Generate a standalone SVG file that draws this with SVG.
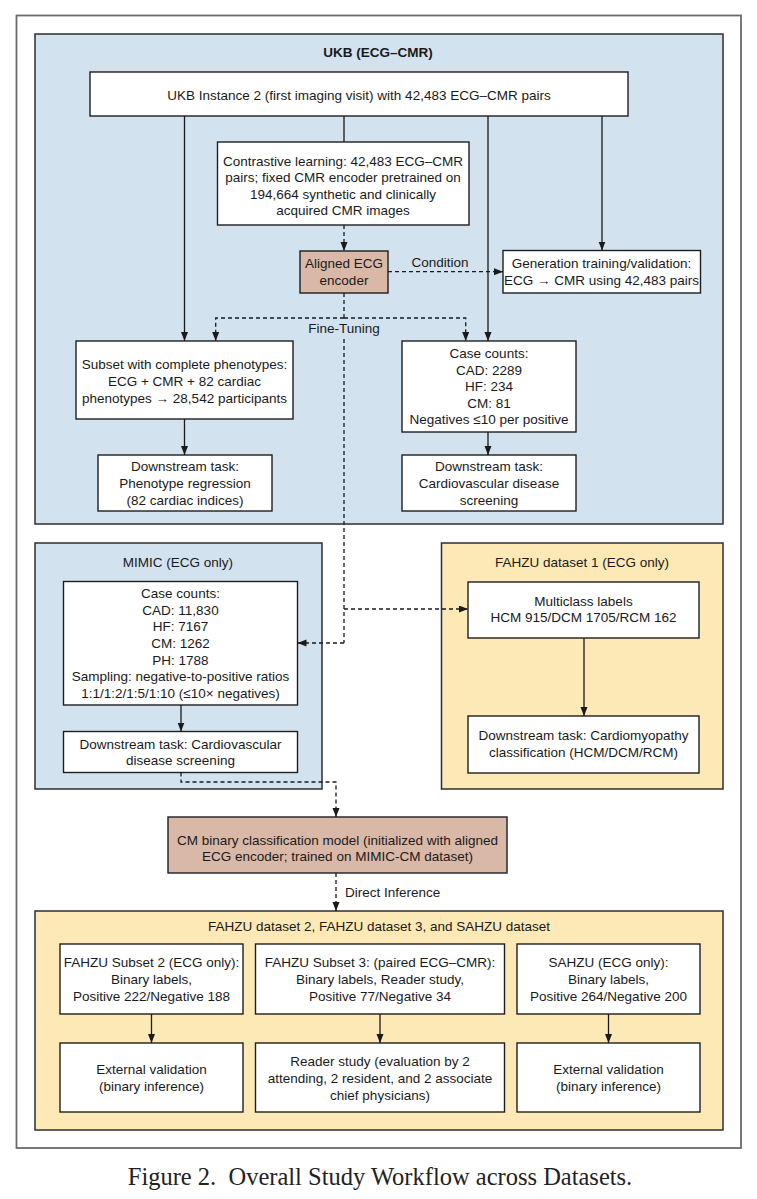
<svg xmlns="http://www.w3.org/2000/svg" width="757" height="1199" viewBox="0 0 757 1199">
<style>
text{font-family:"Liberation Sans",Arial,sans-serif;font-size:13.5px;fill:#1a1a1a;text-anchor:middle}
.bold{font-weight:bold}
.lft{text-anchor:start}
.cap{font-family:"Liberation Serif","Times New Roman",serif;font-size:24.5px;fill:#222;white-space:pre}
.blue{fill:#d3e2ef;stroke:#2e2e2e;stroke-width:1.5}
.yel{fill:#fde9b6;stroke:#2e2e2e;stroke-width:1.5}
.box{fill:#ffffff;stroke:#1f1f1f;stroke-width:1.4}
.rose{fill:#d9b8a8;stroke:#1f1f1f;stroke-width:1.4}
.ln{fill:none;stroke:#1a1a1a;stroke-width:1.3}
.ds{fill:none;stroke:#1a1a1a;stroke-width:1.3;stroke-dasharray:4 3}
.arr{marker-end:url(#ah)}
</style>
<defs>
<marker id="ah" markerUnits="userSpaceOnUse" markerWidth="10" markerHeight="8" refX="9" refY="3.5" orient="auto">
<path d="M0,0 L9,3.5 L0,7 z" fill="#1a1a1a"/>
</marker>
</defs>
<rect x="0" y="0" width="757" height="1199" fill="#ffffff"/>
<g id="frame">
<rect x="16.5" y="15.5" width="724.5" height="1132.5" fill="none" stroke="#6b6b6b" stroke-width="1.8"/>
</g>
<g id="ukb-container">
<rect class="blue" x="35" y="34" width="688" height="490"/>
<text class="bold" x="378" y="57">UKB (ECG–CMR)</text>
</g>
<g id="mimic-container">
<rect class="blue" x="35" y="543" width="287" height="246"/>
<text x="178" y="567">MIMIC (ECG only)</text>
</g>
<g id="fahzu1-container">
<rect class="yel" x="441.5" y="543" width="281.5" height="246"/>
<text x="582" y="567">FAHZU dataset 1 (ECG only)</text>
</g>
<g id="ext-container">
<rect class="yel" x="35" y="911" width="688" height="219"/>
<text x="379" y="931">FAHZU dataset 2, FAHZU dataset 3, and SAHZU dataset</text>
</g>

<g id="ukb-instance">
<rect class="box" x="90" y="72" width="538" height="44"/>
<text x="359" y="100">UKB Instance 2 (first imaging visit) with 42,483 ECG–CMR pairs</text>
</g>
<g id="contrastive">
<rect class="box" x="217.5" y="142" width="251.5" height="83"/>
<text x="343" y="165.5">Contrastive learning: 42,483 ECG–CMR</text>
<text x="343" y="182">pairs; fixed CMR encoder pretrained on</text>
<text x="343" y="198.5">194,664 synthetic and clinically</text>
<text x="343" y="215">acquired CMR images</text>
</g>
<g id="aligned-encoder">
<rect class="rose" x="300" y="251" width="88" height="42"/>
<text x="344" y="268">Aligned ECG</text>
<text x="344" y="285">encoder</text>
</g>
<g id="generation">
<rect class="box" x="503" y="250.5" width="197.5" height="42.5"/>
<text x="601.5" y="268">Generation training/validation:</text>
<text x="601.5" y="285">ECG → CMR using 42,483 pairs</text>
</g>
<g id="ukb-subset">
<rect class="box" x="76" y="341" width="217" height="78"/>
<text x="184.5" y="368.5">Subset with complete phenotypes:</text>
<text x="184.5" y="385.5">ECG + CMR + 82 cardiac</text>
<text x="184.5" y="402.5">phenotypes → 28,542 participants</text>
</g>
<g id="ukb-phenotype-task">
<rect class="box" x="98" y="455" width="174" height="56"/>
<text x="185" y="471">Downstream task:</text>
<text x="185" y="488">Phenotype regression</text>
<text x="185" y="505">(82 cardiac indices)</text>
</g>
<g id="ukb-case-counts">
<rect class="box" x="402" y="341" width="174" height="91"/>
<text x="489" y="358">Case counts:</text>
<text x="489" y="374.6">CAD: 2289</text>
<text x="489" y="391.2">HF: 234</text>
<text x="489" y="407.8">CM: 81</text>
<text x="489" y="424.4">Negatives ≤10 per positive</text>
</g>
<g id="ukb-cvd-task">
<rect class="box" x="402" y="455" width="174" height="56"/>
<text x="489" y="471">Downstream task:</text>
<text x="489" y="488">Cardiovascular disease</text>
<text x="489" y="505">screening</text>
</g>
<g id="mimic-case-counts">
<rect class="box" x="63.5" y="581.5" width="234" height="123.5"/>
<text x="180.5" y="598">Case counts:</text>
<text x="180.5" y="614.7">CAD: 11,830</text>
<text x="180.5" y="631.3">HF: 7167</text>
<text x="180.5" y="648">CM: 1262</text>
<text x="180.5" y="664.7">PH: 1788</text>
<text x="180.5" y="681.3">Sampling: negative-to-positive ratios</text>
<text x="180.5" y="698">1:1/1:2/1:5/1:10 (≤10× negatives)</text>
</g>
<g id="mimic-cvd-task">
<rect class="box" x="63.5" y="731.5" width="234" height="41"/>
<text x="180.5" y="748.5">Downstream task: Cardiovascular</text>
<text x="180.5" y="765">disease screening</text>
</g>
<g id="fahzu1-labels">
<rect class="box" x="468" y="582" width="231" height="56"/>
<text x="583.5" y="605.5">Multiclass labels</text>
<text x="583.5" y="622">HCM 915/DCM 1705/RCM 162</text>
</g>
<g id="fahzu1-task">
<rect class="box" x="468" y="716" width="231" height="57"/>
<text x="583.5" y="740">Downstream task: Cardiomyopathy</text>
<text x="583.5" y="757">classification (HCM/DCM/RCM)</text>
</g>
<g id="cm-binary-model">
<rect class="rose" x="168" y="817" width="339" height="56"/>
<text x="337.5" y="844.5">CM binary classification model (initialized with aligned</text>
<text x="337.5" y="861">ECG encoder; trained on MIMIC-CM dataset)</text>
</g>
<g id="fahzu-subset2">
<rect class="box" x="60" y="944" width="183" height="70"/>
<text x="151.5" y="967">FAHZU Subset 2 (ECG only):</text>
<text x="151.5" y="984">Binary labels,</text>
<text x="151.5" y="1001">Positive 222/Negative 188</text>
</g>
<g id="fahzu-subset3">
<rect class="box" x="255.5" y="944" width="249" height="70"/>
<text x="380" y="967">FAHZU Subset 3: (paired ECG–CMR):</text>
<text x="380" y="984">Binary labels, Reader study,</text>
<text x="380" y="1001">Positive 77/Negative 34</text>
</g>
<g id="sahzu">
<rect class="box" x="517" y="944" width="183" height="70"/>
<text x="608.5" y="967">SAHZU (ECG only):</text>
<text x="608.5" y="984">Binary labels,</text>
<text x="608.5" y="1001">Positive 264/Negative 200</text>
</g>
<g id="fahzu2-validation">
<rect class="box" x="60" y="1043" width="183" height="69"/>
<text x="151.5" y="1074">External validation</text>
<text x="151.5" y="1091">(binary inference)</text>
</g>
<g id="reader-study">
<rect class="box" x="255.5" y="1043" width="249" height="69"/>
<text x="380" y="1065.5">Reader study (evaluation by 2</text>
<text x="380" y="1082.5">attending, 2 resident, and 2 associate</text>
<text x="380" y="1099.5">chief physicians)</text>
</g>
<g id="sahzu-validation">
<rect class="box" x="517" y="1043" width="183" height="69"/>
<text x="608.5" y="1074">External validation</text>
<text x="608.5" y="1091">(binary inference)</text>
</g>

<g id="connectors">
<line class="ln arr" x1="184.5" y1="116" x2="184.5" y2="341"/>
<line class="ln" x1="344" y1="116" x2="344" y2="142"/>
<line class="ln arr" x1="488" y1="116" x2="488" y2="341"/>
<line class="ln arr" x1="602" y1="116" x2="602" y2="250.5"/>
<line class="ln arr" x1="184.5" y1="419" x2="184.5" y2="455"/>
<line class="ln arr" x1="488" y1="432" x2="488" y2="455"/>
<line class="ds arr" x1="344" y1="225" x2="344" y2="251"/>
<line class="ds arr" x1="388" y1="271.7" x2="503" y2="271.7"/>
<text x="440" y="266.5">Condition</text>
<polyline class="ds" points="344,293 344,318"/>
<polyline class="ds arr" points="344,318 215.7,318 215.7,341"/>
<polyline class="ds arr" points="344,318 465.7,318 465.7,341"/>
<text x="344" y="333">Fine-Tuning</text>
<line class="ds" x1="344" y1="339" x2="344" y2="643"/>
<line class="ds arr" x1="344" y1="609" x2="468" y2="609"/>
<line class="ds arr" x1="344" y1="643" x2="297.5" y2="643"/>
<line class="ln arr" x1="181" y1="705" x2="181" y2="731.5"/>
<line class="ln arr" x1="584" y1="638" x2="584" y2="716"/>
<polyline class="ds arr" points="181,772.5 181,782 336,782 336,817"/>
<line class="ds arr" x1="336" y1="873" x2="336" y2="911"/>
<text class="lft" x="345" y="897">Direct Inference</text>
<line class="ln arr" x1="151.5" y1="1014" x2="151.5" y2="1043"/>
<line class="ln arr" x1="380" y1="1014" x2="380" y2="1043"/>
<line class="ln arr" x1="608.5" y1="1014" x2="608.5" y2="1043"/>
</g>
<g id="caption">
<text class="cap" x="380" y="1185" xml:space="preserve">Figure 2.  Overall Study Workflow across Datasets.</text>
</g>
</svg>
